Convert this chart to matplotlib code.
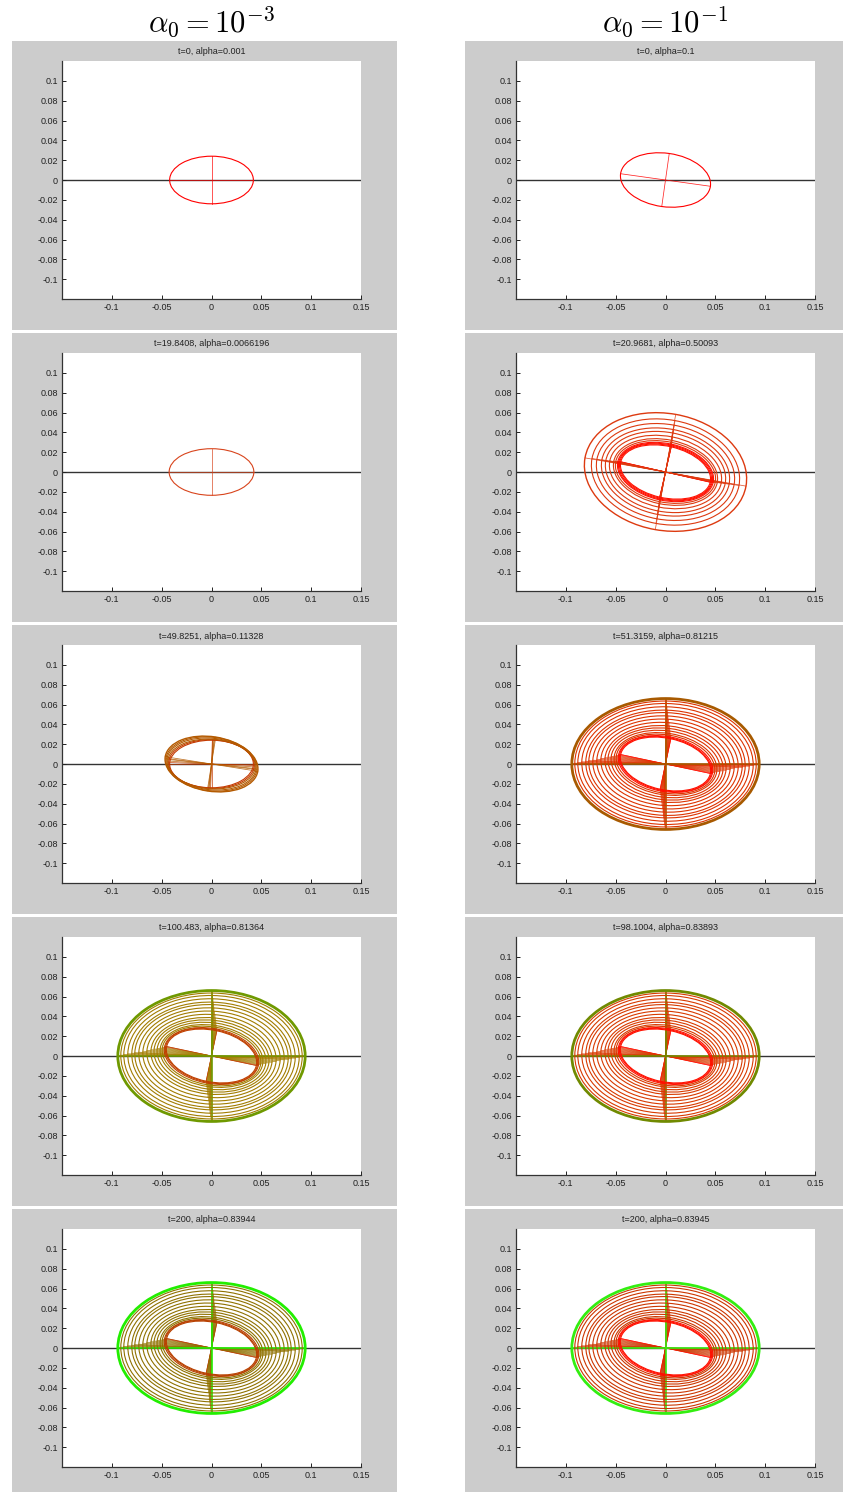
import numpy as np
import matplotlib
matplotlib.use("Agg")
import matplotlib.pyplot as plt
from matplotlib.patches import Ellipse, Rectangle

plt.rcParams['font.family'] = ['Liberation Sans', 'DejaVu Sans']
plt.rcParams['mathtext.fontset'] = 'cm'

# column headers and panel titles (row by row)
col_headers = [r"$\alpha_0 = 10^{-3}$", r"$\alpha_0 = 10^{-1}$"]
titles_left = ["t=0, alpha=0.001", "t=19.8408, alpha=0.0066196",
               "t=49.8251, alpha=0.11328", "t=100.483, alpha=0.81364",
               "t=200, alpha=0.83944"]
titles_right = ["t=0, alpha=0.1", "t=20.9681, alpha=0.50093",
                "t=51.3159, alpha=0.81215", "t=98.1004, alpha=0.83893",
                "t=200, alpha=0.83945"]

xticks = [-0.1, -0.05, 0, 0.05, 0.1, 0.15]
xtick_labels = ["-0.1", "-0.05", "0", "0.05", "0.1", "0.15"]
yticks = [0.1, 0.08, 0.06, 0.04, 0.02, 0, -0.02, -0.04, -0.06, -0.08, -0.1]
ytick_labels = ["0.1", "0.08", "0.06", "0.04", "0.02", "0", "-0.02", "-0.04",
                "-0.06", "-0.08", "-0.1"]

# ellipses: semi axis along x, along y, tilt (deg)
# outermost first, innermost last
a_start_l, b_start_l, ang_start_l = [0.042], [0.024], [0]
a_start_r, b_start_r, ang_start_r = [0.0455], [0.027], [-8]
a_early_l, b_early_l, ang_early_l = [0.0425], [0.0235], [0]

a_mid_l = [0.047, 0.046, 0.045, 0.044, 0.043, 0.042]
b_mid_l = [0.0275, 0.027, 0.026, 0.025, 0.0245, 0.024]
ang_mid_l = [-9, -7, -6, -4, -2, 0]

a_early_r = [0.082, 0.075, 0.070, 0.065, 0.061, 0.057, 0.053, 0.051,
             0.049, 0.048, 0.047, 0.046]
b_early_r = [0.059, 0.0527, 0.048, 0.0435, 0.040, 0.036, 0.0325, 0.0305,
             0.0287, 0.0278, 0.0269, 0.026]
ang_early_r = [-10, -10.5, -10.5, -11, -11, -11.5, -12, -12, -12.5, -12.5,
               -13, -13]

a_full = [0.094, 0.091, 0.088, 0.084, 0.080, 0.077, 0.073, 0.069, 0.065,
          0.061, 0.058, 0.055, 0.052, 0.050, 0.048, 0.047, 0.046]
b_full = [0.066, 0.0635, 0.061, 0.0577, 0.0543, 0.0518, 0.0485, 0.0452,
          0.0418, 0.0385, 0.036, 0.0335, 0.031, 0.0293, 0.0277, 0.0268,
          0.026]
ang_full = [0, -0.5, -1, -1.5, -2, -2.5, -3, -4, -5, -6, -7, -8, -9, -10,
            -11, -12, -12]

# colours: (inner band, rings, outer ring), size of inner band, outer width
panel_left = [
    (a_start_l, b_start_l, ang_start_l, ("#ff0000", "#ff0000", "#ff0000"), 1, 1.0),
    (a_early_l, b_early_l, ang_early_l, ("#d8441c", "#d8441c", "#d8441c"), 1, 1.0),
    (a_mid_l, b_mid_l, ang_mid_l, ("#c43a00", "#b45a00", "#b45a00"), 2, 1.0),
    (a_full, b_full, ang_full, ("#c04000", "#a27c00", "#6f9900"), 3, 2.0),
    (a_full, b_full, ang_full, ("#b84000", "#8f7100", "#22ee00"), 3, 2.0),
]
panel_right = [
    (a_start_r, b_start_r, ang_start_r, ("#ff0000", "#ff0000", "#ff0000"), 1, 1.0),
    (a_early_r, b_early_r, ang_early_r, ("#ff1000", "#dd3a10", "#dd3a10"), 4, 1.0),
    (a_full, b_full, ang_full, ("#ff1000", "#dd3300", "#a85a00"), 3, 2.0),
    (a_full, b_full, ang_full, ("#ff1000", "#d83a00", "#708a00"), 3, 2.0),
    (a_full, b_full, ang_full, ("#ff1000", "#cc3600", "#33ee11"), 3, 2.0),
]

W, H = 843, 1492
fig = plt.figure(figsize=(W / 100, H / 100), dpi=100)
fig.patch.set_facecolor("white")

row_tops = [41, 333, 625, 917, 1209]
gray_x = [(12, 397), (465, 843)]
axes_x = [(62, 361), (516, 815)]


def draw_panel(ax, spec):
    a_list, b_list, ang_list, cols, n_band, outer_lw = spec
    ax.axhline(0, color="#333333", lw=1.0, zorder=1)
    n = len(a_list)
    # draw from the inside out so the outer ring is on top
    for i in reversed(range(n)):
        a, b, ang = a_list[i], b_list[i], ang_list[i]
        if i >= n - n_band:
            c = cols[0]
        elif i == 0:
            c = cols[2]
        else:
            c = cols[1]
        lw = outer_lw if (i == 0 and n > 1) else 0.8
        th = np.deg2rad(ang)
        slw = 0.55 if lw < 1.5 else 1.4
        # principal axes of the ellipse
        ax.plot([-a * np.cos(th), a * np.cos(th)], [-a * np.sin(th), a * np.sin(th)],
                color=c, lw=slw, alpha=0.85, zorder=2)
        ax.plot([b * np.sin(th), -b * np.sin(th)], [-b * np.cos(th), b * np.cos(th)],
                color=c, lw=slw, alpha=0.85, zorder=2)
        ax.add_patch(Ellipse((0, 0), 2 * a, 2 * b, angle=ang, fill=False,
                             edgecolor=c, lw=lw, zorder=3))

    ax.set_xlim(-0.15, 0.15)
    ax.set_ylim(-0.12, 0.12)
    ax.set_xticks(xticks)
    ax.set_xticklabels(xtick_labels)
    ax.set_yticks(yticks)
    ax.set_yticklabels(ytick_labels)
    ax.tick_params(direction="in", length=3, width=0.7, labelsize=6.5,
                   colors="#222222", pad=3)
    for s in ["top", "right"]:
        ax.spines[s].set_visible(False)
    for s in ["left", "bottom"]:
        ax.spines[s].set_color("#333333")
        ax.spines[s].set_linewidth(0.9)


for col, specs, titles in [(0, panel_left, titles_left), (1, panel_right, titles_right)]:
    gx0, gx1 = gray_x[col]
    ax0, ax1 = axes_x[col]
    for r, top in enumerate(row_tops):
        bottom = top + 289 if r < 4 else H
        fig.patches.append(Rectangle((gx0 / W, 1 - bottom / H), (gx1 - gx0) / W,
                                     (bottom - top) / H, transform=fig.transFigure,
                                     facecolor="#cccccc", edgecolor="none", zorder=-5))
        ax = fig.add_axes([ax0 / W, 1 - (top + 258) / H, (ax1 - ax0) / W, 238 / H])
        draw_panel(ax, specs[r])
        fig.text((ax0 + ax1) / 2 / W, 1 - (top + 11) / H, titles[r],
                 ha="center", va="center", fontsize=6.5, color="#222222")
    fig.text((ax0 + ax1) / 2 / W, 1 - 22 / H, col_headers[col],
             ha="center", va="center", fontsize=22, color="black")

fig.savefig("out.png", dpi=100, facecolor="white")
